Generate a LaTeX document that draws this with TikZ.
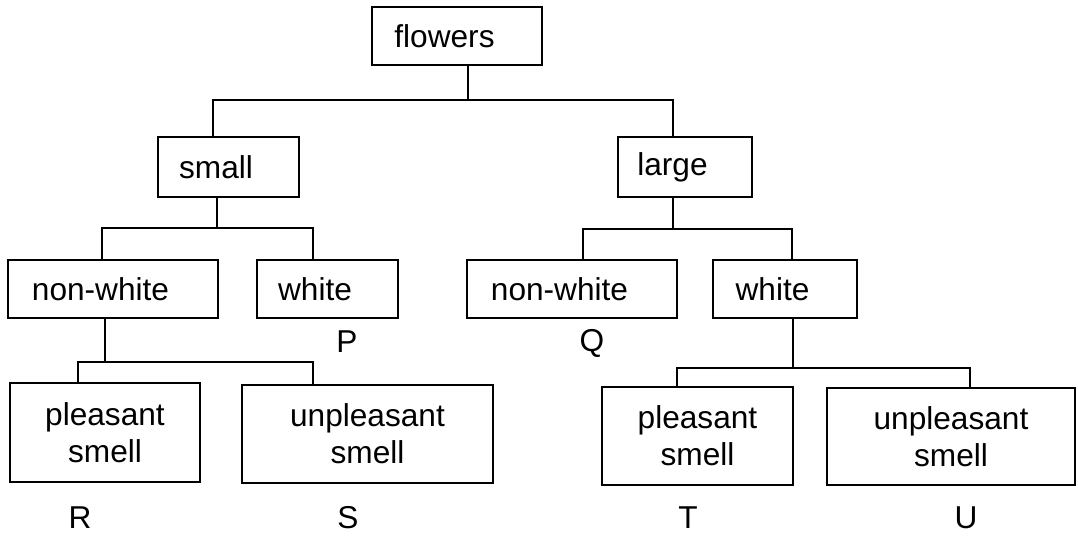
\documentclass[tikz,border=0pt]{standalone}
\usepackage{fontspec}
\setmainfont{Liberation Sans}
\begin{document}
\begin{tikzpicture}[x=0.02cm,y=-0.02cm,
  box/.style={draw, line width=1.1pt, inner sep=0pt, align=center,
    font=\fontsize{18}{21}\selectfont},
  lbl/.style={inner sep=0pt, font=\fontsize{18}{21}\selectfont},
  conn/.style={line width=1pt}]
\useasboundingbox (0,0) rectangle (1078,536);
\newcommand{\sh}{\kern0.5cm}
% boxes
\node[box, minimum width=3.4cm, minimum height=1.16cm] (flowers) at (457,36) {flowers\sh};
\node[box, minimum width=2.82cm, minimum height=1.2cm] (small) at (228.5,167) {small\sh};
\node[box, minimum width=2.68cm, minimum height=1.2cm] (large) at (685,167) {large\sh};
\node[box, minimum width=4.2cm, minimum height=1.16cm] (nwL) at (113,289) {non-white\sh};
\node[box, minimum width=2.82cm, minimum height=1.16cm] (wL) at (327.5,289) {white\sh};
\node[box, minimum width=4.2cm, minimum height=1.16cm] (nwR) at (572,289) {non-white\sh};
\node[box, minimum width=2.88cm, minimum height=1.16cm] (wR) at (785,289) {white\sh};
\node[box, minimum width=3.8cm, minimum height=1.98cm] (pL) at (105,432.5) {pleasant\\smell};
\node[box, minimum width=5.02cm, minimum height=1.96cm] (uL) at (367.5,434) {unpleasant\\smell};
\node[box, minimum width=3.82cm, minimum height=1.96cm] (pR) at (697.5,436) {pleasant\\smell};
\node[box, minimum width=4.96cm, minimum height=1.94cm] (uR) at (951,436.5) {unpleasant\\smell};
% letters
\node[lbl] (P) at (347,342) {P};
\node[lbl] (Q) at (592,343) {Q};
\node[lbl] (R) at (80,518) {R};
\node[lbl] (S) at (348,518) {S};
\node[lbl] (T) at (688,518) {T};
\node[lbl] (U) at (966,518) {U};
% junctions and branch points
\coordinate (j1) at (468,100);
\coordinate (j2) at (217,228);
\coordinate (j3) at (673,229);
\coordinate (j4) at (105,362);
\coordinate (j5) at (793,368);
\coordinate (xs) at (213,0);
\coordinate (xl) at (673,0);
\coordinate (xnwL) at (102,0);
\coordinate (xwL) at (313,0);
\coordinate (xnwR) at (583,0);
\coordinate (xwR) at (792,0);
\coordinate (xpL) at (78,0);
\coordinate (xuL) at (313,0);
\coordinate (xpR) at (677,0);
\coordinate (xuR) at (970,0);
% connectors
\draw[conn] (flowers.south -| j1) -- (j1);
\draw[conn] (small.north -| xs) |- (j1) -| (large.north -| xl);
\draw[conn] (small.south -| j2) -- (j2);
\draw[conn] (nwL.north -| xnwL) |- (j2) -| (wL.north -| xwL);
\draw[conn] (large.south -| j3) -- (j3);
\draw[conn] (nwR.north -| xnwR) |- (j3) -| (wR.north -| xwR);
\draw[conn] (nwL.south -| j4) -- (j4);
\draw[conn] (pL.north -| xpL) |- (j4) -| (uL.north -| xuL);
\draw[conn] (wR.south -| j5) -- (j5);
\draw[conn] (pR.north -| xpR) |- (j5) -| (uR.north -| xuR);
\end{tikzpicture}
\end{document}
